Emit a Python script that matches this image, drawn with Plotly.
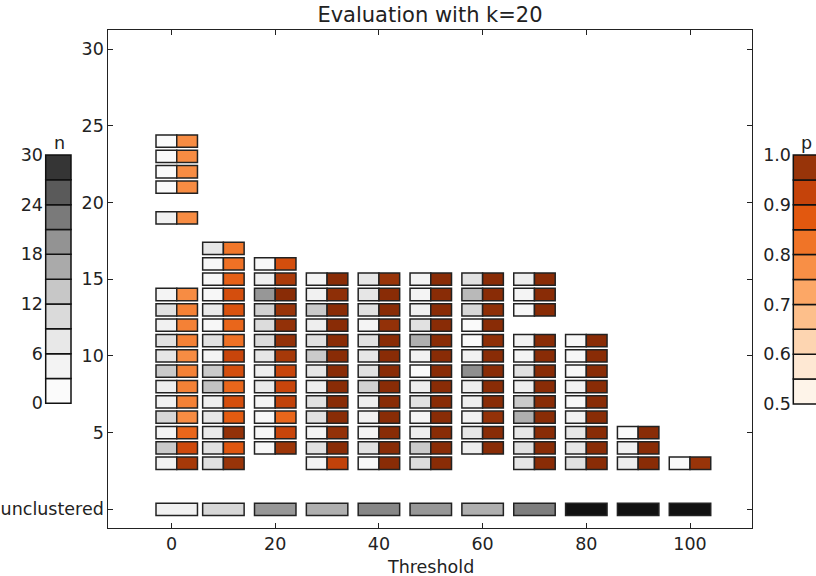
import plotly.graph_objects as go

# ---------------- data ----------------
thresholds = [1, 10, 20, 30, 40, 50, 60, 70, 80, 90, 100]

cluster_rows = [
    [3, 4, 5, 6, 7, 8, 9, 10, 11, 12, 13, 14, 19, 21, 22, 23, 24],
    [3, 4, 5, 6, 7, 8, 9, 10, 11, 12, 13, 14, 15, 16, 17],
    [4, 5, 6, 7, 8, 9, 10, 11, 12, 13, 14, 15, 16],
    [3, 4, 5, 6, 7, 8, 9, 10, 11, 12, 13, 14, 15],
    [3, 4, 5, 6, 7, 8, 9, 10, 11, 12, 13, 14, 15],
    [3, 4, 5, 6, 7, 8, 9, 10, 11, 12, 13, 14, 15],
    [4, 5, 6, 7, 8, 9, 10, 11, 12, 13, 14, 15],
    [3, 4, 5, 6, 7, 8, 9, 10, 11, 13, 14, 15],
    [3, 4, 5, 6, 7, 8, 9, 10, 11],
    [3, 4, 5],
    [3],
]

cluster_n = [
    [5, 13, 4, 11, 5, 6, 13, 8, 9, 5, 9, 4, 5, 2, 2, 2, 2],
    [9, 9, 7, 8, 6, 14, 13, 4, 9, 3, 7, 3, 3, 3, 8],
    [3, 3, 3, 4, 7, 6, 8, 10, 10, 12, 19, 6, 3],
    [4, 9, 4, 9, 9, 6, 8, 13, 9, 6, 13, 5, 4],
    [3, 9, 4, 5, 6, 12, 9, 8, 9, 4, 9, 8, 8],
    [10, 13, 6, 4, 9, 6, 2, 5, 16, 9, 5, 4, 4],
    [6, 8, 5, 6, 6, 20, 5, 2, 2, 11, 15, 9],
    [8, 9, 8, 16, 13, 6, 9, 4, 5, 3, 4, 6],
    [9, 8, 8, 5, 3, 5, 3, 3, 3],
    [6, 5, 2],
    [2],
]

cluster_p = [
    [0.96, 0.91, 0.85, 0.78, 0.80, 0.80, 0.80, 0.78, 0.80, 0.80, 0.80, 0.78, 0.78, 0.78, 0.78, 0.78, 0.78],
    [0.975, 0.88, 0.98, 0.87, 0.90, 0.85, 0.90, 0.92, 0.83, 0.85, 0.89, 0.90, 0.86, 0.83, 0.82],
    [0.97, 0.92, 0.85, 0.93, 0.92, 0.92, 0.96, 0.98, 0.98, 0.975, 0.99, 0.955, 0.90],
    [0.93, 0.99, 0.98, 0.99, 0.99, 0.99, 0.99, 0.99, 0.99, 0.99, 0.99, 0.985, 0.99],
    [0.99, 0.99, 0.99, 0.99, 0.99, 0.99, 0.99, 0.99, 0.99, 0.98, 0.99, 0.99, 0.975],
    [0.99, 0.99, 0.99, 0.99, 0.99, 0.99, 0.99, 0.99, 0.99, 0.99, 0.99, 0.99, 0.99],
    [0.99, 0.99, 0.98, 0.99, 0.99, 0.99, 0.99, 0.985, 0.99, 0.985, 0.99, 0.99],
    [0.99, 0.99, 0.99, 0.99, 0.99, 0.99, 0.99, 0.99, 0.99, 0.99, 0.99, 0.99],
    [0.99, 0.99, 0.99, 0.99, 0.99, 0.99, 0.99, 0.99, 0.99],
    [0.99, 0.99, 0.99],
    [0.975],
]

unclustered_n = [5, 11, 19, 16, 21, 19, 16, 22, 35, 40, 45]

x_ticks = [0, 20, 40, 60, 80, 100]
y_ticks = [0, 5, 10, 15, 20, 25, 30]
y_ticktext = ["unclustered", "5", "10", "15", "20", "25", "30"]
n_bins = [0, 3, 6, 9, 12, 15, 18, 21, 24, 27, 30]
n_ticks = [0, 6, 12, 18, 24, 30]
p_bins = [0.5, 0.55, 0.6, 0.65, 0.7, 0.75, 0.8, 0.85, 0.9, 0.95, 1.0]
p_ticks = [0.5, 0.6, 0.7, 0.8, 0.9, 1.0]

# ---------------- styles ----------------
GRAY = [[0, "#ffffff"], [0.15, "#f3f3f3"], [0.25, "#e8e8e8"], [0.35, "#dadada"],
        [0.45, "#c7c7c7"], [0.55, "#aaaaaa"], [0.65, "#939393"], [0.75, "#7a7a7a"],
        [0.85, "#5a5a5a"], [0.95, "#353535"], [1.0, "#111111"]]
ORANGE = [[0, "#fff5eb"], [0.05, "#fef4e9"], [0.15, "#fee8d3"], [0.25, "#fdd5b1"],
          [0.35, "#fdbf8b"], [0.45, "#fca766"], [0.55, "#f88f46"], [0.65, "#f07427"],
          [0.75, "#e2580f"], [0.85, "#c5430a"], [0.95, "#983409"], [1.0, "#7f2704"]]
EDGE = dict(color="#222222", width=1.5)
TXT = "#222222"
FS = 17.5
W, H = 816, 576
CELL_H = 0.8
CELL_W = 4

gx, gbase, gn, gp = [], [], [], []
for t, rows, ns, ps in zip(thresholds, cluster_rows, cluster_n, cluster_p):
    for r, n, p in zip(rows, ns, ps):
        gx.append(t)
        gbase.append(r - CELL_H / 2)
        gn.append(n)
        gp.append(p)

fig = go.Figure()
fig.add_trace(go.Bar(x=gx, y=[CELL_H] * len(gx), base=gbase, width=CELL_W, offset=-CELL_W,
                     marker=dict(color=gn, colorscale=GRAY, cmin=0, cmax=30, line=EDGE),
                     showlegend=False, hoverinfo="skip"))
fig.add_trace(go.Bar(x=gx, y=[CELL_H] * len(gx), base=gbase, width=CELL_W, offset=0,
                     marker=dict(color=gp, colorscale=ORANGE, cmin=0.5, cmax=1.0, line=EDGE),
                     showlegend=False, hoverinfo="skip"))
fig.add_trace(go.Bar(x=thresholds, y=[CELL_H] * len(thresholds), base=[-CELL_H / 2] * len(thresholds),
                     width=2 * CELL_W, offset=-CELL_W,
                     marker=dict(color=unclustered_n, colorscale=GRAY, cmin=0, cmax=30, line=EDGE),
                     showlegend=False, hoverinfo="skip"))

# colorbars drawn as stacked bars
n_low = n_bins[:-1]
n_h = [b - a for a, b in zip(n_bins[:-1], n_bins[1:])]
n_mid = [(a + b) / 2 for a, b in zip(n_bins[:-1], n_bins[1:])]
fig.add_trace(go.Bar(x=[12.65] * len(n_low), y=n_h, base=n_low, width=25.3,
                     marker=dict(color=n_mid, colorscale=GRAY, cmin=0, cmax=30,
                                 line=dict(color="#111111", width=1.5)),
                     xaxis="x2", yaxis="y2", showlegend=False, hoverinfo="skip"))
p_low = p_bins[:-1]
p_h = [b - a for a, b in zip(p_bins[:-1], p_bins[1:])]
p_mid = [(a + b) / 2 for a, b in zip(p_bins[:-1], p_bins[1:])]
fig.add_trace(go.Bar(x=[12.65] * len(p_low), y=p_h, base=p_low, width=25.3,
                     marker=dict(color=p_mid, colorscale=ORANGE, cmin=0.5, cmax=1.0,
                                 line=dict(color="#111111", width=1.5)),
                     xaxis="x3", yaxis="y3", showlegend=False, hoverinfo="skip"))

axis_style = dict(showline=True, linecolor=TXT, linewidth=1, mirror="ticks",
                  ticks="inside", ticklen=5, tickwidth=1, tickcolor=TXT,
                  showgrid=False, zeroline=False, tickfont=dict(size=FS, color=TXT))

fig.update_layout(
    width=W, height=H, margin=dict(l=0, r=0, t=0, b=0, autoexpand=False),
    paper_bgcolor="white", plot_bgcolor="white", barmode="overlay",
    font=dict(family="DejaVu Sans", size=FS, color=TXT),
    title=dict(text="Evaluation with k=20", x=430 / W, y=1 - 15 / H, xanchor="center",
               yanchor="middle", font=dict(size=21, color=TXT)),
    xaxis=dict(domain=[108.3 / W, 751.7 / W], range=[-12.2, 111.9], tickvals=x_ticks,
               anchor="y", **axis_style),
    yaxis=dict(domain=[1 - 528.3 / H, 1 - 30 / H], range=[-1.24, 31.24], tickvals=y_ticks,
               ticktext=y_ticktext, anchor="x", **axis_style),
    xaxis2=dict(domain=[44 / W, 74 / W], range=[-1.7, 28.3], visible=False, anchor="y2"),
    yaxis2=dict(domain=[1 - 408.3 / H, 1 - 150 / H], range=[-0.604, 30.604], anchor="x2",
                side="left", tickvals=n_ticks, ticks="", showgrid=False, zeroline=False,
                showline=False, tickfont=dict(size=FS, color=TXT)),
    xaxis3=dict(domain=[792 / W, 1.0], range=[-1.3, 22.7], visible=False, anchor="y3"),
    yaxis3=dict(domain=[1 - 409 / H, 1 - 150 / H], range=[0.48996, 1.01004], anchor="x3",
                side="left", tickvals=p_ticks, tickformat=".1f", ticks="", showgrid=False,
                zeroline=False, showline=False, tickfont=dict(size=FS, color=TXT)),
    annotations=[
        dict(text="n", x=59 / W, y=1 - 143 / H, xref="paper", yref="paper", showarrow=False,
             xanchor="center", yanchor="middle", font=dict(size=FS, color=TXT)),
        dict(text="p", x=806 / W, y=1 - 143 / H, xref="paper", yref="paper", showarrow=False,
             xanchor="center", yanchor="middle", font=dict(size=FS, color=TXT)),
        dict(text="Threshold", x=430 / W, y=1 - 567 / H, xref="paper", yref="paper",
             showarrow=False, xanchor="center", yanchor="middle",
             font=dict(size=FS, color=TXT)),
    ],
)

fig.write_html("out.html", config={"displayModeBar": False},
               post_script="document.documentElement.style.overflow='hidden';"
                           "document.body.style.margin='0';document.body.style.overflow='hidden';")
